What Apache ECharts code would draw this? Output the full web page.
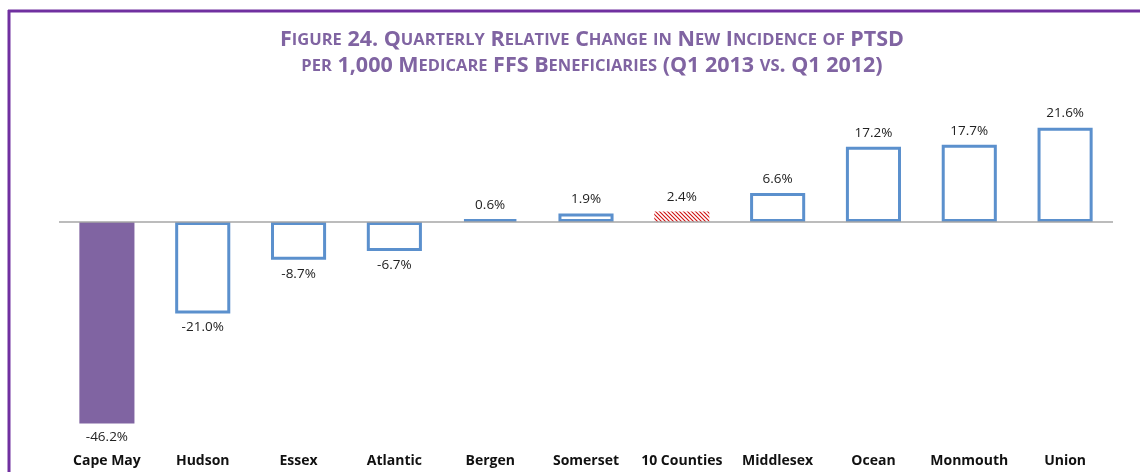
<!DOCTYPE html>
<html><head><meta charset="utf-8">
<script src="https://cdn.jsdelivr.net/npm/echarts@6/dist/echarts.min.js"></script>
<style>html,body{margin:0;padding:0;background:#fff}#c{width:1140px;height:472px}</style>
</head><body><div id="c"></div>
<script>
const categories = ['Cape May','Hudson','Essex','Atlantic','Bergen','Somerset','10 Counties','Middlesex','Ocean','Monmouth','Union'];
const values = [-46.2, -21.0, -8.7, -6.7, 0.6, 1.9, 2.4, 6.6, 17.2, 17.7, 21.6];
const titleLines = ['Figure 24. Quarterly Relative Change in New Incidence of PTSD', 'per 1,000 Medicare FFS Beneficiaries (Q1 2013 vs. Q1 2012)'];

function smallCaps(s){
  let out = '', cur = '', curStyle = null;
  for (const ch of s){
    const st = (ch >= 'a' && ch <= 'z') ? 'b' : 'a';
    if (st !== curStyle && cur){ out += '{' + curStyle + '|' + cur + '}'; cur = ''; }
    curStyle = st; cur += ch.toUpperCase();
  }
  if (cur) out += '{' + curStyle + '|' + cur + '}';
  return out;
}

const hatch = document.createElement('canvas');
hatch.width = 4; hatch.height = 4;
(function(){
  const g = hatch.getContext('2d');
  g.fillStyle = '#fff'; g.fillRect(0,0,4,4);
  g.strokeStyle = '#d01010'; g.lineWidth = 1.1;
  g.beginPath(); g.moveTo(0,0); g.lineTo(4,4); g.moveTo(-1,3); g.lineTo(1,5); g.moveTo(3,-1); g.lineTo(5,1); g.stroke();
})();

const blue = '#5B90CD';
const data = values.map((v, i) => {
  const name = categories[i];
  let itemStyle;
  if (name === 'Cape May') itemStyle = { color: '#8064A2', borderWidth: 0 };
  else if (name === '10 Counties') itemStyle = { color: { image: hatch, repeat: 'repeat' }, borderWidth: 0 };
  else itemStyle = { color: '#fff', borderColor: blue, borderWidth: 3 };
  return { value: v, itemStyle, label: { position: v < 0 ? 'bottom' : 'top' } };
});

const chart = echarts.init(document.getElementById('c'));
chart.setOption({
  animation: false,
  backgroundColor: '#fff',
  title: {
    text: titleLines.map(smallCaps).join('\n'),
    left: 587, top: 22, textAlign: 'center',
    textStyle: {
      rich: {
        a: { fontFamily: 'Open Sans', fontWeight: 'bold', fontSize: 21.5, color: '#8064A2', lineHeight: 26 },
        b: { fontFamily: 'Open Sans', fontWeight: 'bold', fontSize: 16.5, color: '#8064A2', lineHeight: 26 }
      }
    }
  },
  graphic: [
    { type: 'line', shape: { x1: 8, y1: 11, x2: 1140, y2: 11 }, style: { stroke: '#7030A0', lineWidth: 3 } },
    { type: 'line', shape: { x1: 9, y1: 10, x2: 9, y2: 472 }, style: { stroke: '#7030A0', lineWidth: 3 } }
  ],
  grid: { left: 59, width: 1054, top: 91, height: 349, containLabel: false },
  xAxis: {
    type: 'category', data: categories, position: 'bottom',
    axisLine: { show: false, onZero: false }, axisTick: { show: false },
    axisLabel: { fontFamily: 'Open Sans', fontWeight: 'bold', fontSize: 14, color: '#111', margin: 14, interval: 0 }
  },
  yAxis: {
    type: 'value', min: -50, max: 30, show: false, splitLine: { show: false }
  },
  series: [{
    type: 'bar', data, barWidth: '57.5%',
    label: { show: true, formatter: p => p.value.toFixed(1) + '%', fontFamily: 'Open Sans', fontSize: 13.5, color: '#222', distance: 7 },
    markLine: {
      silent: true, symbol: 'none', label: { show: false },
      lineStyle: { color: '#a6a6a6', type: 'solid', width: 1.5 },
      data: [{ yAxis: 0 }]
    }
  }]
});
</script></body></html>
